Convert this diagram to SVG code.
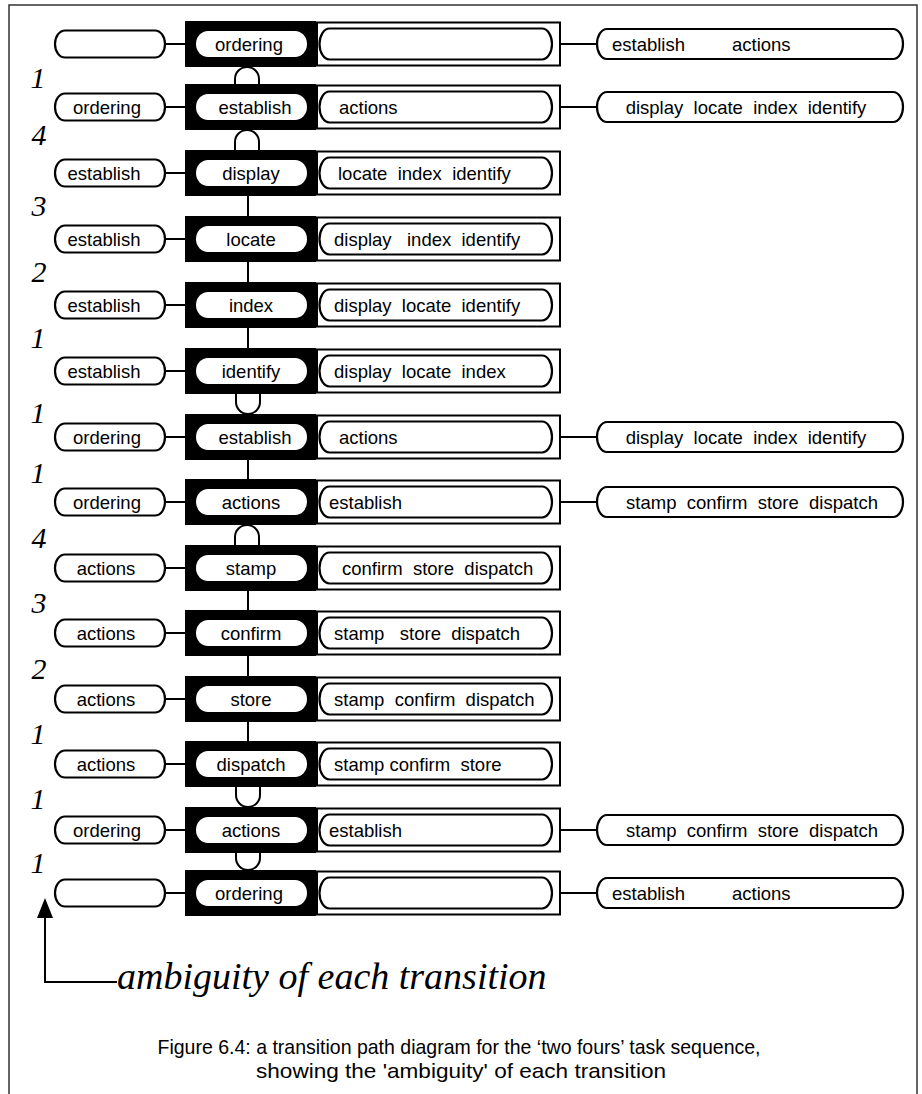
<svg xmlns="http://www.w3.org/2000/svg" width="922" height="1094" viewBox="0 0 922 1094">
  <style>
    .frame { fill: none; stroke: #333; stroke-width: 1.5; }
    .lp, .ip, .fp { fill: #fff; stroke: #000; stroke-width: 2.2; }
    .blk { fill: #000; }
    .wp { fill: #fff; }
    .box { fill: #fff; stroke: #000; stroke-width: 2; }
    .t { font-family: "Liberation Sans", Arial, sans-serif; font-size: 18.5px; fill: #000; white-space: pre; }
    .c { text-anchor: middle; }
    .num { font-family: "Liberation Serif", "Times New Roman", serif; font-style: italic; font-size: 30px; fill: #000; text-anchor: middle; }
    .big { font-family: "Liberation Serif", "Times New Roman", serif; font-style: italic; font-size: 38px; fill: #000; }
    .cap { font-family: "Liberation Sans", Arial, sans-serif; font-size: 21px; fill: #000; text-anchor: middle; }
    .ln { fill: none; stroke: #000; stroke-width: 2; }
    .arc { fill: #fff; stroke: #000; stroke-width: 2; }
  </style>
  <defs>
    <marker id="head" markerWidth="20" markerHeight="16" refX="0" refY="8" orient="auto" markerUnits="userSpaceOnUse" viewBox="0 0 20 16">
      <path d="M0,0 L20,8 L0,16 Z" fill="#000"/>
    </marker>
  </defs>

  <!-- page frame -->
  <path class="frame" d="M9,1094 V5 H917 V1094"/>

  <!-- connectors -->
  <g id="connectors">
    <!-- previous-state pill to task box, and remaining list to next-step pill -->
    <g class="ln">
      <path d="M165,44 H185 M560,44 H597"/>
      <path d="M165,107 H185 M560,107 H597"/>
      <path d="M165,173 H185"/>
      <path d="M165,239 H185"/>
      <path d="M165,305 H185"/>
      <path d="M165,371 H185"/>
      <path d="M165,437 H185 M560,437 H597"/>
      <path d="M165,502 H185 M560,502 H597"/>
      <path d="M165,568 H185"/>
      <path d="M165,633 H185"/>
      <path d="M165,699 H185"/>
      <path d="M165,764 H185"/>
      <path d="M165,830 H185 M560,830 H597"/>
      <path d="M165,893 H185 M560,893 H597"/>
      <!-- straight transitions -->
      <path d="M248,196 V216 M248,262 V282 M248,328 V348 M248,460 V479 M248,591 V610 M248,656 V676 M248,722 V741"/>
      <path d="M248,394 V399 M248,787 V792 M248,853 V857"/>
    </g>
    <!-- arches into the next task box -->
    <path class="arc" d="M235,84 V79 A12,12 0 0 1 259,79 V84"/>
    <path class="arc" d="M235,150 V142 A12,12 0 0 1 259,142 V150"/>
    <path class="arc" d="M235,545 V537 A12,12 0 0 1 259,537 V545"/>
    <!-- cups out of the previous task box -->
    <path class="arc" d="M236,394 V402 A12,12 0 0 0 260,402 V394"/>
    <path class="arc" d="M236,787 V795 A12,12 0 0 0 260,795 V787"/>
    <path class="arc" d="M236,853 V858 A12,12 0 0 0 260,858 V853"/>
  </g>

  <!-- row 1 -->
  <g id="row1" transform="translate(0,44)">
    <g id="r1-prev"><rect class="lp" x="55" y="-13.5" width="110" height="27" rx="10" ry="13.5"/></g>
    <g id="r1-task"><rect class="blk" x="185" y="-23" width="131" height="46"/><rect class="wp" x="196" y="-13" width="111" height="26" rx="12" ry="13"/><text class="t c" x="249" y="6.5">ordering</text></g>
    <g id="r1-rest"><rect class="box" x="317" y="-21.5" width="243" height="43"/><rect class="ip" x="319.5" y="-15.5" width="232.5" height="31" rx="10" ry="15.5"/></g>
    <g id="r1-next"><rect class="fp" x="597" y="-15" width="306" height="30" rx="10" ry="15"/><text class="t" x="612" y="6.5">establish</text><text class="t" x="732" y="6.5">actions</text></g>
  </g>

  <!-- row 2 -->
  <g id="row2" transform="translate(0,107)">
    <g id="r2-prev"><rect class="lp" x="55" y="-13.5" width="110" height="27" rx="10" ry="13.5"/><text class="t c" x="107" y="6.5">ordering</text></g>
    <g id="r2-task"><rect class="blk" x="185" y="-23" width="131" height="46"/><rect class="wp" x="196" y="-13" width="111" height="26" rx="12" ry="13"/><text class="t c" x="255" y="6.5">establish</text></g>
    <g id="r2-rest"><rect class="box" x="317" y="-21.5" width="243" height="43"/><rect class="ip" x="319.5" y="-15.5" width="232.5" height="31" rx="10" ry="15.5"/><text class="t" x="339" y="6.5">actions</text></g>
    <g id="r2-next"><rect class="fp" x="597" y="-15" width="306" height="30" rx="10" ry="15"/><text class="t c" x="746" y="6.5" xml:space="preserve">display  locate  index  identify</text></g>
  </g>

  <!-- row 3 -->
  <g id="row3" transform="translate(0,173)">
    <g id="r3-prev"><rect class="lp" x="55" y="-13.5" width="110" height="27" rx="10" ry="13.5"/><text class="t c" x="104" y="6.5">establish</text></g>
    <g id="r3-task"><rect class="blk" x="185" y="-23" width="131" height="46"/><rect class="wp" x="196" y="-13" width="111" height="26" rx="12" ry="13"/><text class="t c" x="251" y="6.5">display</text></g>
    <g id="r3-rest"><rect class="box" x="317" y="-21.5" width="243" height="43"/><rect class="ip" x="319.5" y="-15.5" width="232.5" height="31" rx="10" ry="15.5"/><text class="t" x="338" y="6.5" xml:space="preserve">locate  index  identify</text></g>
  </g>

  <!-- row 4 -->
  <g id="row4" transform="translate(0,239)">
    <g id="r4-prev"><rect class="lp" x="55" y="-13.5" width="110" height="27" rx="10" ry="13.5"/><text class="t c" x="104" y="6.5">establish</text></g>
    <g id="r4-task"><rect class="blk" x="185" y="-23" width="131" height="46"/><rect class="wp" x="196" y="-13" width="111" height="26" rx="12" ry="13"/><text class="t c" x="251" y="6.5">locate</text></g>
    <g id="r4-rest"><rect class="box" x="317" y="-21.5" width="243" height="43"/><rect class="ip" x="319.5" y="-15.5" width="232.5" height="31" rx="10" ry="15.5"/><text class="t" x="334" y="6.5" xml:space="preserve">display   index  identify</text></g>
  </g>

  <!-- row 5 -->
  <g id="row5" transform="translate(0,305)">
    <g id="r5-prev"><rect class="lp" x="55" y="-13.5" width="110" height="27" rx="10" ry="13.5"/><text class="t c" x="104" y="6.5">establish</text></g>
    <g id="r5-task"><rect class="blk" x="185" y="-23" width="131" height="46"/><rect class="wp" x="196" y="-13" width="111" height="26" rx="12" ry="13"/><text class="t c" x="251" y="6.5">index</text></g>
    <g id="r5-rest"><rect class="box" x="317" y="-21.5" width="243" height="43"/><rect class="ip" x="319.5" y="-15.5" width="232.5" height="31" rx="10" ry="15.5"/><text class="t" x="334" y="6.5" xml:space="preserve">display  locate  identify</text></g>
  </g>

  <!-- row 6 -->
  <g id="row6" transform="translate(0,371)">
    <g id="r6-prev"><rect class="lp" x="55" y="-13.5" width="110" height="27" rx="10" ry="13.5"/><text class="t c" x="104" y="6.5">establish</text></g>
    <g id="r6-task"><rect class="blk" x="185" y="-23" width="131" height="46"/><rect class="wp" x="196" y="-13" width="111" height="26" rx="12" ry="13"/><text class="t c" x="251" y="6.5">identify</text></g>
    <g id="r6-rest"><rect class="box" x="317" y="-21.5" width="243" height="43"/><rect class="ip" x="319.5" y="-15.5" width="232.5" height="31" rx="10" ry="15.5"/><text class="t" x="334" y="6.5" xml:space="preserve">display  locate  index</text></g>
  </g>

  <!-- row 7 -->
  <g id="row7" transform="translate(0,437)">
    <g id="r7-prev"><rect class="lp" x="55" y="-13.5" width="110" height="27" rx="10" ry="13.5"/><text class="t c" x="107" y="6.5">ordering</text></g>
    <g id="r7-task"><rect class="blk" x="185" y="-23" width="131" height="46"/><rect class="wp" x="196" y="-13" width="111" height="26" rx="12" ry="13"/><text class="t c" x="255" y="6.5">establish</text></g>
    <g id="r7-rest"><rect class="box" x="317" y="-21.5" width="243" height="43"/><rect class="ip" x="319.5" y="-15.5" width="232.5" height="31" rx="10" ry="15.5"/><text class="t" x="339" y="6.5">actions</text></g>
    <g id="r7-next"><rect class="fp" x="597" y="-15" width="306" height="30" rx="10" ry="15"/><text class="t c" x="746" y="6.5" xml:space="preserve">display  locate  index  identify</text></g>
  </g>

  <!-- row 8 -->
  <g id="row8" transform="translate(0,502)">
    <g id="r8-prev"><rect class="lp" x="55" y="-13.5" width="110" height="27" rx="10" ry="13.5"/><text class="t c" x="107" y="6.5">ordering</text></g>
    <g id="r8-task"><rect class="blk" x="185" y="-23" width="131" height="46"/><rect class="wp" x="196" y="-13" width="111" height="26" rx="12" ry="13"/><text class="t c" x="251" y="6.5">actions</text></g>
    <g id="r8-rest"><rect class="box" x="317" y="-21.5" width="243" height="43"/><rect class="ip" x="319.5" y="-15.5" width="232.5" height="31" rx="10" ry="15.5"/><text class="t" x="329" y="6.5">establish</text></g>
    <g id="r8-next"><rect class="fp" x="597" y="-15" width="306" height="30" rx="10" ry="15"/><text class="t c" x="752" y="6.5" xml:space="preserve">stamp  confirm  store  dispatch</text></g>
  </g>

  <!-- row 9 -->
  <g id="row9" transform="translate(0,568)">
    <g id="r9-prev"><rect class="lp" x="55" y="-13.5" width="110" height="27" rx="10" ry="13.5"/><text class="t c" x="106" y="6.5">actions</text></g>
    <g id="r9-task"><rect class="blk" x="185" y="-23" width="131" height="46"/><rect class="wp" x="196" y="-13" width="111" height="26" rx="12" ry="13"/><text class="t c" x="251" y="6.5">stamp</text></g>
    <g id="r9-rest"><rect class="box" x="317" y="-21.5" width="243" height="43"/><rect class="ip" x="319.5" y="-15.5" width="232.5" height="31" rx="10" ry="15.5"/><text class="t" x="342" y="6.5" xml:space="preserve">confirm  store  dispatch</text></g>
  </g>

  <!-- row 10 -->
  <g id="row10" transform="translate(0,633)">
    <g id="r10-prev"><rect class="lp" x="55" y="-13.5" width="110" height="27" rx="10" ry="13.5"/><text class="t c" x="106" y="6.5">actions</text></g>
    <g id="r10-task"><rect class="blk" x="185" y="-23" width="131" height="46"/><rect class="wp" x="196" y="-13" width="111" height="26" rx="12" ry="13"/><text class="t c" x="251" y="6.5">confirm</text></g>
    <g id="r10-rest"><rect class="box" x="317" y="-21.5" width="243" height="43"/><rect class="ip" x="319.5" y="-15.5" width="232.5" height="31" rx="10" ry="15.5"/><text class="t" x="334" y="6.5" xml:space="preserve">stamp   store  dispatch</text></g>
  </g>

  <!-- row 11 -->
  <g id="row11" transform="translate(0,699)">
    <g id="r11-prev"><rect class="lp" x="55" y="-13.5" width="110" height="27" rx="10" ry="13.5"/><text class="t c" x="106" y="6.5">actions</text></g>
    <g id="r11-task"><rect class="blk" x="185" y="-23" width="131" height="46"/><rect class="wp" x="196" y="-13" width="111" height="26" rx="12" ry="13"/><text class="t c" x="251" y="6.5">store</text></g>
    <g id="r11-rest"><rect class="box" x="317" y="-21.5" width="243" height="43"/><rect class="ip" x="319.5" y="-15.5" width="232.5" height="31" rx="10" ry="15.5"/><text class="t" x="334" y="6.5" xml:space="preserve">stamp  confirm  dispatch</text></g>
  </g>

  <!-- row 12 -->
  <g id="row12" transform="translate(0,764)">
    <g id="r12-prev"><rect class="lp" x="55" y="-13.5" width="110" height="27" rx="10" ry="13.5"/><text class="t c" x="106" y="6.5">actions</text></g>
    <g id="r12-task"><rect class="blk" x="185" y="-23" width="131" height="46"/><rect class="wp" x="196" y="-13" width="111" height="26" rx="12" ry="13"/><text class="t c" x="251" y="6.5">dispatch</text></g>
    <g id="r12-rest"><rect class="box" x="317" y="-21.5" width="243" height="43"/><rect class="ip" x="319.5" y="-15.5" width="232.5" height="31" rx="10" ry="15.5"/><text class="t" x="334" y="6.5" xml:space="preserve">stamp confirm  store</text></g>
  </g>

  <!-- row 13 -->
  <g id="row13" transform="translate(0,830)">
    <g id="r13-prev"><rect class="lp" x="55" y="-13.5" width="110" height="27" rx="10" ry="13.5"/><text class="t c" x="107" y="6.5">ordering</text></g>
    <g id="r13-task"><rect class="blk" x="185" y="-23" width="131" height="46"/><rect class="wp" x="196" y="-13" width="111" height="26" rx="12" ry="13"/><text class="t c" x="251" y="6.5">actions</text></g>
    <g id="r13-rest"><rect class="box" x="317" y="-21.5" width="243" height="43"/><rect class="ip" x="319.5" y="-15.5" width="232.5" height="31" rx="10" ry="15.5"/><text class="t" x="329" y="6.5">establish</text></g>
    <g id="r13-next"><rect class="fp" x="597" y="-15" width="306" height="30" rx="10" ry="15"/><text class="t c" x="752" y="6.5" xml:space="preserve">stamp  confirm  store  dispatch</text></g>
  </g>

  <!-- row 14 -->
  <g id="row14" transform="translate(0,893)">
    <g id="r14-prev"><rect class="lp" x="55" y="-13.5" width="110" height="27" rx="10" ry="13.5"/></g>
    <g id="r14-task"><rect class="blk" x="185" y="-23" width="131" height="46"/><rect class="wp" x="196" y="-13" width="111" height="26" rx="12" ry="13"/><text class="t c" x="249" y="6.5">ordering</text></g>
    <g id="r14-rest"><rect class="box" x="317" y="-21.5" width="243" height="43"/><rect class="ip" x="319.5" y="-15.5" width="232.5" height="31" rx="10" ry="15.5"/></g>
    <g id="r14-next"><rect class="fp" x="597" y="-15" width="306" height="30" rx="10" ry="15"/><text class="t" x="612" y="6.5">establish</text><text class="t" x="732" y="6.5">actions</text></g>
  </g>

  <!-- ambiguity counts -->
  <g id="counts">
    <text class="num" x="38" y="88">1</text>
    <text class="num" x="39" y="145">4</text>
    <text class="num" x="39" y="216">3</text>
    <text class="num" x="39" y="282">2</text>
    <text class="num" x="38" y="348">1</text>
    <text class="num" x="38" y="423">1</text>
    <text class="num" x="38" y="483">1</text>
    <text class="num" x="39" y="548">4</text>
    <text class="num" x="39" y="613">3</text>
    <text class="num" x="39" y="679">2</text>
    <text class="num" x="38" y="744">1</text>
    <text class="num" x="38" y="809">1</text>
    <text class="num" x="38" y="873">1</text>
  </g>

  <!-- legend arrow -->
  <g id="legend">
    <path class="ln" d="M117,982 H45 V918" marker-end="url(#head)"/>
    <text class="big" x="117" y="989">ambiguity of each transition</text>
  </g>

  <!-- caption -->
  <g id="caption">
    <text class="cap" x="459" y="1054" textLength="603" lengthAdjust="spacingAndGlyphs">Figure 6.4: a transition path diagram for the ‘two fours’ task sequence,</text>
    <text class="cap" x="461" y="1078" textLength="410" lengthAdjust="spacingAndGlyphs">showing the 'ambiguity' of each transition</text>
  </g>
</svg>
